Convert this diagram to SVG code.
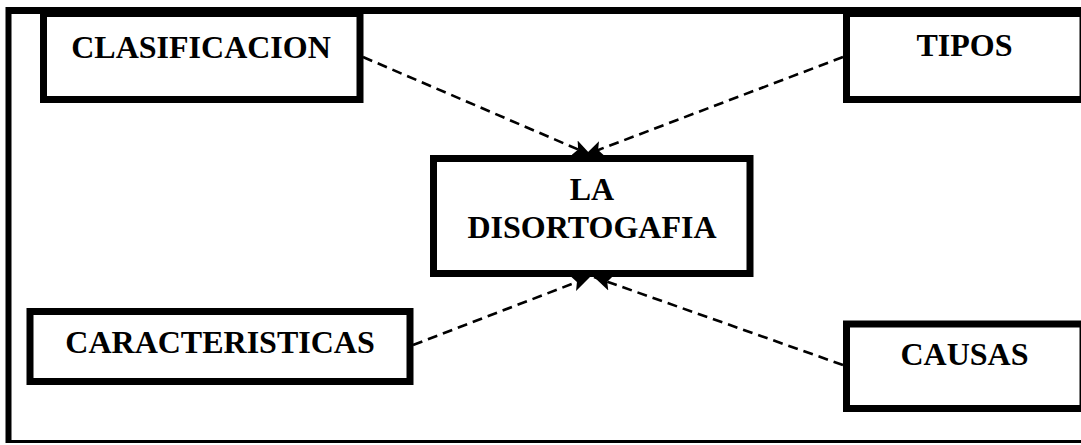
<svg xmlns="http://www.w3.org/2000/svg" width="1081" height="445" viewBox="0 0 1081 445">
<style>
.box{fill:#fff;stroke:#000;stroke-width:7}
.lbl{font-family:"Liberation Serif","Times New Roman",serif;font-weight:bold;font-size:32px;fill:#000;text-anchor:middle}
.con{stroke:#000;stroke-width:2.6;fill:none;stroke-dasharray:10 6;marker-end:url(#ah)}
</style>
<defs>
<marker id="ah" markerUnits="userSpaceOnUse" markerWidth="20" markerHeight="18" refX="18" refY="8" orient="auto" viewBox="0 0 20 16">
<path d="M0,0 L18,8 L0,16 L4,8 Z" fill="#000"/>
</marker>
</defs>
<g id="frame">
<line x1="8.5" y1="10.5" x2="1081" y2="10.5" stroke="#000" stroke-width="7"/>
<line x1="8.5" y1="7" x2="8.5" y2="443" stroke="#000" stroke-width="6"/>
<line x1="6" y1="441.5" x2="1081" y2="441.5" stroke="#000" stroke-width="3"/>
</g>
<g id="connectors">
<line class="con" x1="363" y1="57" x2="591" y2="155"/>
<line class="con" x1="843" y1="57" x2="585" y2="155"/>
<line class="con" x1="413" y1="345" x2="590" y2="277"/>
<line class="con" x1="843" y1="365" x2="594" y2="277"/>
</g>
<g id="n-clasificacion">
<rect class="box" x="43.5" y="13.5" width="316.5" height="86"/>
<text class="lbl" x="201" y="58">CLASIFICACION</text>
</g>
<g id="n-tipos">
<rect class="box" x="846.5" y="13.5" width="236.5" height="86"/>
<text class="lbl" x="964.5" y="56">TIPOS</text>
</g>
<g id="n-center">
<rect class="box" x="433.5" y="158.5" width="316.5" height="115"/>
<text class="lbl" x="592" y="200">LA</text>
<text class="lbl" x="592" y="238">DISORTOGAFIA</text>
</g>
<g id="n-caracteristicas">
<rect class="box" x="30" y="311.5" width="380" height="70"/>
<text class="lbl" x="220" y="353">CARACTERISTICAS</text>
</g>
<g id="n-causas">
<rect class="box" x="846.5" y="324" width="236.5" height="84.5"/>
<text class="lbl" x="964.5" y="365">CAUSAS</text>
</g>
</svg>
